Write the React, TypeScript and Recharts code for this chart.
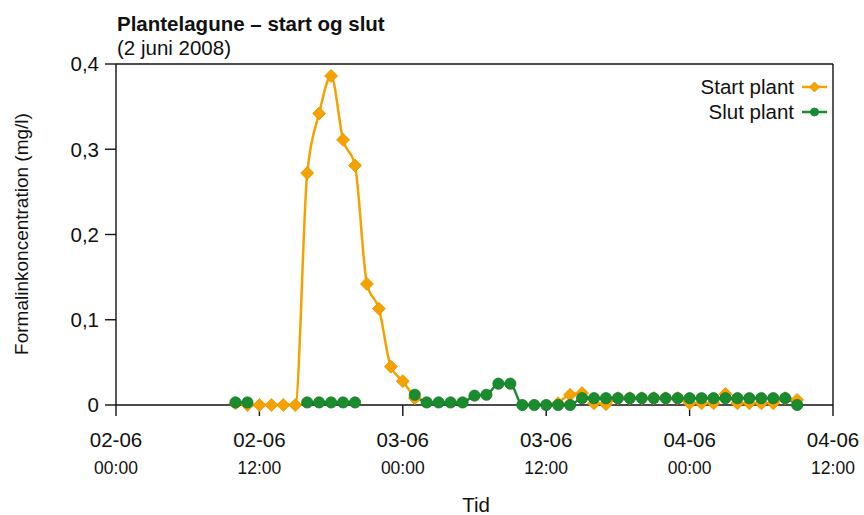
import React from "react";
import {
  LineChart,
  Line,
  XAxis,
  YAxis,
  Legend,
  ReferenceLine,
} from "recharts";

// hours since 02-06 00:00
const hours = [
  10, 11, 12, 13, 14, 15, 16, 17, 18, 19, 20, 21, 22, 23, 24, 25, 26, 27, 28,
  29, 30, 31, 32, 33, 34, 35, 36, 37, 38, 39, 40, 41, 42, 43, 44, 45, 46, 47,
  48, 49, 50, 51, 52, 53, 54, 55, 56, 57,
];

const startPlant = [
  0.002, 0, 0, 0, 0, 0, 0.272, 0.342, 0.386, 0.311, 0.281, 0.142, 0.113, 0.045,
  0.028, 0.008, null, null, null, null, null, null, null, null, null, null,
  null, 0.002, 0.012, 0.014, 0.002, 0.001, 0.008, 0.008, 0.008, 0.008, 0.008,
  0.008, 0.002, 0.002, 0.002, 0.013, 0.002, 0.002, 0.002, 0.002, 0.008, 0.006,
];

const slutPlant = [
  0.003, 0.003, null, null, null, null, 0.003, 0.003, 0.003, 0.003, 0.003,
  null, null, null, null, 0.012, 0.003, 0.003, 0.003, 0.003, 0.011, 0.012,
  0.025, 0.025, 0, 0, 0, 0, 0, 0.008, 0.008, 0.008, 0.008, 0.008, 0.008, 0.008,
  0.008, 0.008, 0.008, 0.008, 0.008, 0.008, 0.008, 0.008, 0.008, 0.008, 0.008,
  0,
];

const seriesOrder = ["Start plant", "Slut plant"];
const xTicks = [0, 12, 24, 36, 48, 60];
const xDateLabels = ["02-06", "02-06", "03-06", "03-06", "04-06", "04-06"];
const xTimeLabels = ["00:00", "12:00", "00:00", "12:00", "00:00", "12:00"];
const yTicks = [0, 0.1, 0.2, 0.3, 0.4];

const ORANGE = "#f5a200";
const GREEN = "#1b8c2e";
const FONT = "'Liberation Sans', Arial, Helvetica, sans-serif";

const data = hours.map((h, i) => ({
  t: h,
  start: startPlant[i],
  slut: slutPlant[i],
}));

function Diamond({ cx, cy, half = 6.5 }: any) {
  if (cx == null || cy == null) return null;
  return (
    <polygon
      points={`${cx},${cy - half} ${cx + half},${cy} ${cx},${cy + half} ${cx - half},${cy}`}
      fill={ORANGE}
      stroke="#e89400"
      strokeWidth={0.8}
    />
  );
}

function Dot({ cx, cy, radius = 5.6 }: any) {
  if (cx == null || cy == null) return null;
  return <circle cx={cx} cy={cy} r={radius} fill={GREEN} stroke="#177a27" strokeWidth={0.8} />;
}

function TimeTick({ x, y, payload }: any) {
  const i = xTicks.indexOf(payload.value);
  return (
    <g>
      <text x={x} y={y + 29} textAnchor="middle" fontSize={20.5} fill="#111" fontFamily={FONT}>
        {xDateLabels[i]}
      </text>
      <text x={x} y={y + 56} textAnchor="middle" fontSize={17.5} fill="#111" fontFamily={FONT}>
        {xTimeLabels[i]}
      </text>
    </g>
  );
}

function ChartLegend({ payload }: any) {
  const items = [...(payload || [])].sort(
    (a: any, b: any) => seriesOrder.indexOf(a.value) - seriesOrder.indexOf(b.value)
  );
  return (
    <div style={{ fontFamily: FONT, fontSize: 20.5, color: "#111" }}>
      {items.map((p: any) => (
        <div
          key={p.value}
          style={{
            display: "flex",
            justifyContent: "flex-end",
            alignItems: "center",
            height: 25.5,
          }}
        >
          <span>{p.value}</span>
          <svg width={26} height={14} style={{ marginLeft: 8 }}>
            <line x1={0} y1={7} x2={25} y2={7} stroke={p.color} strokeWidth={2.5} />
            {p.value === "Start plant" ? (
              <Diamond cx={12.5} cy={7} half={5} />
            ) : (
              <Dot cx={12.5} cy={7} radius={4} />
            )}
          </svg>
        </div>
      ))}
    </div>
  );
}

export default function App() {
  return (
    <div style={{ position: "absolute", left: 0, top: 0, width: 864, height: 515, background: "#fff" }}>
      <LineChart
        width={864}
        height={515}
        data={data}
        margin={{ top: 64, right: 31, bottom: 50, left: 30 }}
        style={{ fontFamily: FONT }}
      >
        <XAxis
          dataKey="t"
          type="number"
          domain={[0, 60]}
          ticks={xTicks}
          height={60}
          tickSize={11}
          tickMargin={2}
          tick={<TimeTick />}
          axisLine={{ stroke: "#111", strokeWidth: 1.4 }}
          tickLine={{ stroke: "#111", strokeWidth: 1.4 }}
        />
        <YAxis
          type="number"
          domain={[0, 0.4]}
          ticks={yTicks}
          width={86}
          tickSize={11}
          tickMargin={6}
          tickFormatter={(v: number) => (v === 0 ? "0" : v.toFixed(1).replace(".", ","))}
          tick={{ fill: "#111", fontSize: 20.5 }}
          axisLine={{ stroke: "#111", strokeWidth: 1.4 }}
          tickLine={{ stroke: "#111", strokeWidth: 1.4 }}
        />
        <ReferenceLine y={0.4} stroke="#111" strokeWidth={1.4} />
        <ReferenceLine x={60} stroke="#111" strokeWidth={1.4} />
        <Legend
          layout="vertical"
          align="center"
          verticalAlign="middle"
          content={<ChartLegend />}
          wrapperStyle={{ position: "absolute", top: 74, left: 640, width: 188 }}
        />
        <Line
          dataKey="start"
          name="Start plant"
          type="monotone"
          stroke={ORANGE}
          strokeWidth={2.5}
          dot={<Diamond />}
          activeDot={false}
          connectNulls={false}
          isAnimationActive={false}
        />
        <Line
          dataKey="slut"
          name="Slut plant"
          type="monotone"
          stroke={GREEN}
          strokeWidth={2.5}
          dot={<Dot />}
          activeDot={false}
          connectNulls={false}
          isAnimationActive={false}
        />
      </LineChart>
      <svg
        width={864}
        height={515}
        style={{ position: "absolute", left: 0, top: 0, pointerEvents: "none" }}
        fontFamily={FONT}
        fill="#111"
      >
        <text x={117} y={31} fontSize={20.5} fontWeight="bold">
          Plantelagune – start og slut
        </text>
        <text x={117} y={55} fontSize={20.5}>
          (2 juni 2008)
        </text>
        <text x={28} y={234} fontSize={19} textAnchor="middle" transform="rotate(-90 28 234)">
          Formalinkoncentration (mg/l)
        </text>
        <text x={476} y={512} fontSize={20.5} textAnchor="middle">
          Tid
        </text>
      </svg>
    </div>
  );
}
